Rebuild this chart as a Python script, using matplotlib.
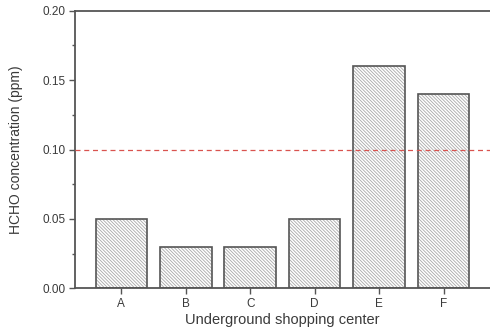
import matplotlib
matplotlib.use("Agg")
import matplotlib.pyplot as plt
from matplotlib.ticker import MultipleLocator

plt.rcParams['font.family'] = ['Liberation Sans', 'DejaVu Sans']
plt.rcParams['hatch.linewidth'] = 0.6

centers = ["A", "B", "C", "D", "E", "F"]
hcho = [0.05, 0.03, 0.03, 0.05, 0.16, 0.14]
limit = 0.10

ink = "#3a3a3a"
x = list(range(1, len(centers) + 1))

fig = plt.figure(figsize=(4.9, 3.33), dpi=100)
ax = fig.add_axes([0.153, 0.134, 0.847, 0.834])

# hatched fill, then a darker outline on top
ax.bar(x, hcho, width=0.8, color="white", edgecolor="#a8a8a8",
       hatch="\\" * 10, linewidth=0, zorder=2)
ax.bar(x, hcho, width=0.8, color="none", edgecolor="#555555",
       linewidth=1.2, zorder=3)

ax.axhline(limit, color="#d9534f", linestyle=(0, (4, 3)), linewidth=0.9,
           zorder=4)

ax.set_xlim(0.28, 6.72)
ax.set_ylim(0, 0.20)
ax.set_xticks(x)
ax.set_xticklabels(centers)
ax.yaxis.set_major_locator(MultipleLocator(0.05))
ax.yaxis.set_minor_locator(MultipleLocator(0.025))
ax.yaxis.set_major_formatter(plt.FormatStrFormatter("%.2f"))

for side in ("left", "bottom", "top"):
    ax.spines[side].set_color("#555555")
    ax.spines[side].set_linewidth(1.3)
ax.spines["right"].set_visible(False)

ax.tick_params(axis="both", which="major", direction="out", length=4,
               width=1.0, color="#555555", labelsize=8.5, labelcolor=ink, pad=3)
ax.tick_params(axis="y", which="minor", direction="out", length=2.5,
               width=1.0, color="#555555")

ax.set_xlabel("Underground shopping center", fontsize=10.5, color=ink,
              labelpad=2)
ax.set_ylabel("HCHO concentration (ppm)", fontsize=10, color=ink, labelpad=14)

fig.savefig("out.png", dpi=100)
